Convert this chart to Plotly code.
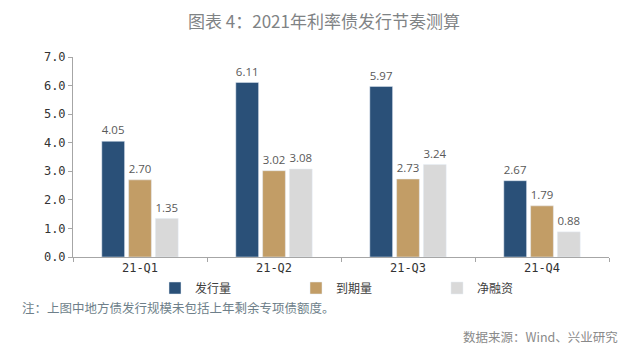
import plotly.graph_objects as go

categories = ["21-Q1", "21-Q2", "21-Q3", "21-Q4"]
issuance = [4.05, 6.11, 5.97, 2.67]
maturity = [2.70, 3.02, 2.73, 1.79]
net_financing = [1.35, 3.08, 3.24, 0.88]
series_names = ["发行量", "到期量", "净融资"]
y_ticks = [0, 1, 2, 3, 4, 5, 6, 7]

colors = ["#2a5078", "#c29d66", "#d9d9d9"]
cjk = "Noto Sans CJK SC"

# page body has an 8px margin, so the figure is 8px smaller and shifted
W, H = 632, 349
PL, PT, PW, PH = 65, 49, 536, 200

fig = go.Figure()
for name, vals, col in zip(series_names, [issuance, maturity, net_financing], colors):
    fig.add_trace(go.Bar(
        x=categories, y=vals, name=name, marker_color=col,
        text=[f"{v:.2f}" for v in vals], textposition="outside",
        textfont=dict(family="Open Sans", size=12, color="#595959"),
        cliponaxis=False,
    ))

fig.update_layout(
    width=W, height=H,
    margin=dict(l=PL, r=W - PL - PW, t=PT, b=H - PT - PH, autoexpand=False),
    paper_bgcolor="white", plot_bgcolor="white",
    barmode="group", bargap=0.4, bargroupgap=0.15,
    title=dict(text="图表 4：2021年利率债发行节奏测算", x=0.5, xanchor="center",
               y=1 - 14 / H, yanchor="middle", yref="container",
               font=dict(family=cjk, size=17, color="#7f8385")),
    showlegend=True,
    legend=dict(orientation="h", x=82 / PW, xanchor="left",
                y=-31 / PH, yanchor="middle",
                entrywidth=96, itemwidth=30,
                font=dict(family=cjk, size=12, color="#404040"),
                bgcolor="rgba(0,0,0,0)", traceorder="normal"),
    font=dict(family=cjk),
)
fig.update_yaxes(range=[0, 7], tickvals=y_ticks, tickformat=".1f",
                 showgrid=False, zeroline=False, showline=True, automargin=False,
                 linecolor="#a6a6a6", linewidth=1, ticks="outside",
                 ticklen=4, tickcolor="#a6a6a6",
                 tickfont=dict(family="DejaVu Sans Mono", size=12, color="#333333"))
fig.update_xaxes(showgrid=False, showline=True, linecolor="#a6a6a6", linewidth=1,
                 ticks="outside", tickson="boundaries", ticklen=4, tickcolor="#a6a6a6",
                 automargin=False,
                 tickfont=dict(family="DejaVu Sans Mono", size=12, color="#333333"))

fig.add_annotation(text="注：上图中地方债发行规模未包括上年剩余专项债额度。",
                   xref="paper", yref="paper", x=-53 / PW, xanchor="left",
                   y=-50 / PH, yanchor="middle", showarrow=False,
                   font=dict(family=cjk, size=12.5, color="#6e7f8a"))
fig.add_annotation(text="数据来源：Wind、兴业研究",
                   xref="paper", yref="paper", x=547 / PW, xanchor="right",
                   y=-79 / PH, yanchor="middle", showarrow=False,
                   font=dict(family=cjk, size=12.5, color="#8a8a8a"))

fig.write_html("out.html")
